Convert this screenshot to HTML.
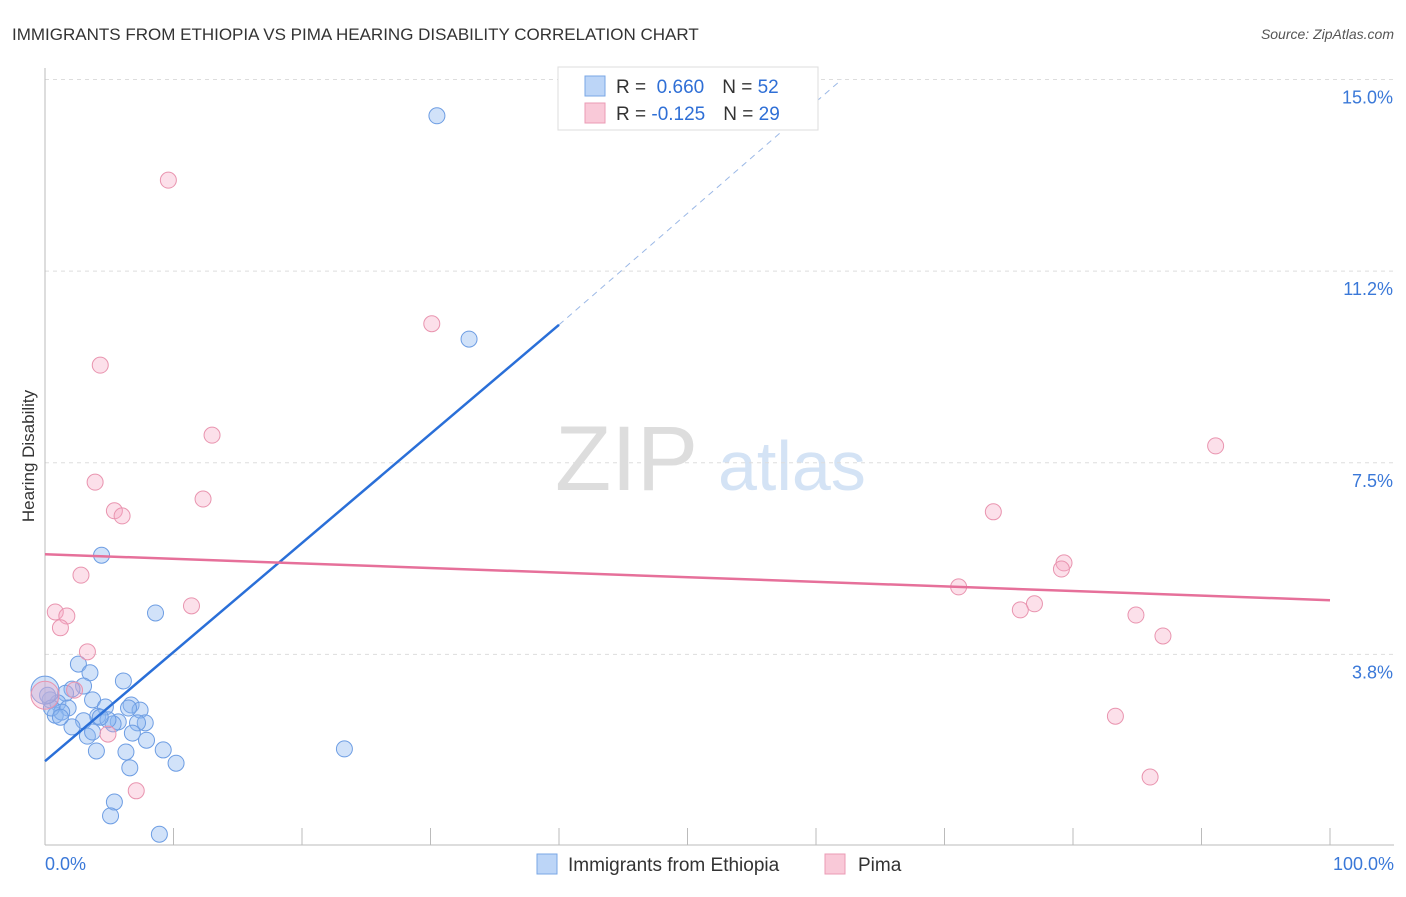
<!DOCTYPE html>
<html><head><meta charset="utf-8"><style>
body{margin:0;background:#fff;font-family:"Liberation Sans",sans-serif}
svg text{font-family:"Liberation Sans",sans-serif}
</style></head><body>
<svg id="c" width="1406" height="892">
<text x="12" y="40" font-size="17" fill="#333">IMMIGRANTS FROM ETHIOPIA VS PIMA HEARING DISABILITY CORRELATION CHART</text>
<text x="1394" y="39" font-size="14" fill="#555" text-anchor="end" font-style="italic">Source: ZipAtlas.com</text>
<text x="34" y="456" font-size="17" fill="#333" text-anchor="middle" transform="rotate(-90 34 456)">Hearing Disability</text>
<g><text x="555" y="490" font-size="92" fill="#ddd" font-family="Liberation Serif">ZIP</text><text x="718" y="490" font-size="70" fill="#d4e3f5">atlas</text></g>
<g id="grid"></g><g id="marks"></g>
<g>
<rect x="558" y="67" width="260" height="63" fill="#fff" stroke="#ddd"/>
<rect x="585" y="76" width="20" height="20" fill="#bcd5f7" stroke="#7aa7e6"/>
<rect x="585" y="103" width="20" height="20" fill="#f9c9d8" stroke="#eb9bb5"/>
<text x="616" y="93" font-size="19" fill="#333">R = <tspan fill="#2f6fd6">&#160;0.660</tspan><tspan dx="18">N = </tspan><tspan fill="#2f6fd6">52</tspan></text>
<text x="616" y="120" font-size="19" fill="#333">R = <tspan fill="#2f6fd6">-0.125</tspan><tspan dx="18">N = </tspan><tspan fill="#2f6fd6">29</tspan></text>
</g>
<g>
<rect x="537" y="854" width="20" height="20" fill="#bcd5f7" stroke="#7aa7e6"/>
<text x="568" y="871" font-size="19" fill="#333">Immigrants from Ethiopia</text>
<rect x="825" y="854" width="20" height="20" fill="#f9c9d8" stroke="#eb9bb5"/>
<text x="858" y="871" font-size="19" fill="#333">Pima</text>
</g>
</svg>
<script>
const yTicks=[3.75,7.5,11.25,15];
const yTickLabels=["3.8%","7.5%","11.2%","15.0%"];
const xTickLabels=["0.0%","100.0%"];
const blueX=[30.5,33.0,4.4,8.6,2.6,3.5,6.1,3.0,2.1,1.6,3.7,0.4,1.0,1.8,4.7,6.7,7.4,6.5,4.1,0.8,1.3,3.0,2.1,5.7,7.8,7.2,5.3,6.8,3.3,3.7,7.9,4.0,6.3,9.2,6.6,10.2,23.3,5.4,5.1,8.9,0.2,0.5,1.2,4.9,4.3,0];
const blueY=[14.29,9.92,5.69,4.56,3.56,3.39,3.23,3.13,3.07,2.99,2.86,2.86,2.80,2.70,2.72,2.76,2.66,2.70,2.54,2.56,2.62,2.45,2.33,2.43,2.41,2.41,2.39,2.21,2.15,2.23,2.07,1.86,1.84,1.88,1.53,1.62,1.90,0.86,0.59,0.23,2.95,2.70,2.52,2.47,2.52,3.05];
const pinkX=[9.6,30.1,4.3,13.0,3.9,12.3,5.4,6.0,2.8,0.8,1.7,1.2,3.3,11.4,4.9,7.1,2.3,0,91.1,73.8,79.3,79.1,71.1,77.0,75.9,84.9,87.0,83.3,86.0];
const pinkY=[13.03,10.22,9.41,8.04,7.12,6.79,6.56,6.46,5.30,4.58,4.50,4.27,3.80,4.70,2.19,1.08,3.05,2.95,7.83,6.54,5.54,5.42,5.07,4.74,4.62,4.52,4.11,2.54,1.35];
const blueTrend=[0,1.66,40,10.2,62,15.0];
const pinkTrend=[0,5.71,100,4.81];
const X=v=>45+v*12.85, Y=v=>846-v*51.1;
const NS="http://www.w3.org/2000/svg";
const g=document.getElementById('grid'), m=document.getElementById('marks');
function mk(p,tag,a){const e=document.createElementNS(NS,tag);for(const k in a)e.setAttribute(k,a[k]);p.appendChild(e);return e;}
yTicks.forEach((t,i)=>{
 const l=mk(g,'line',{x1:45,x2:1394,y1:Y(t),y2:Y(t),stroke:'#ddd','stroke-dasharray':'4,4'});
 
 
 const tx=mk(g,'text',{x:1393,y:Y(t)+24,'font-size':18,fill:'#3a78d8','text-anchor':'end'});tx.textContent=yTickLabels[i];
 
 
});
const ax=mk(g,'line',{x1:45,x2:1394,y1:845,y2:845,stroke:'#bbb'});


const ay=mk(g,'line',{x1:45,x2:45,y1:68,y2:845,stroke:'#bbb'});


for(let i=0;i<=10;i++){const t=mk(g,'line',{x1:X(i*10),x2:X(i*10),y1:828,y2:845,stroke:'#bbb'});
 
 }
[[0,"start"],[100,"end"]].forEach((p,i)=>{const t=mk(g,'text',{x:i?1394:45,y:870,'font-size':18,fill:'#3a78d8','text-anchor':p[1]});t.textContent=xTickLabels[i];
 
 });
function dots(xs,ys,fill,stroke,name){xs.forEach((x,i)=>{const c=mk(m,'circle',{cx:X(x),cy:Y(ys[i]),r:(x===0?14:8),fill:fill,stroke:stroke,'stroke-width':1});
 
 });}
dots(blueX,blueY,'rgba(140,182,240,0.4)','#6d9de3','point-ethiopia');
dots(pinkX,pinkY,'rgba(245,165,195,0.35)','#e994af','point-pima');
const b1=mk(m,'line',{x1:X(blueTrend[0]),y1:Y(blueTrend[1]),x2:X(blueTrend[2]),y2:Y(blueTrend[3]),stroke:'#2a6fd8','stroke-width':2.5});


const b2=mk(m,'line',{x1:X(blueTrend[2]),y1:Y(blueTrend[3]),x2:X(blueTrend[4]),y2:Y(blueTrend[5]),stroke:'#9bb8e6','stroke-width':1,'stroke-dasharray':'6,5'});


const p1=mk(m,'line',{x1:X(pinkTrend[0]),y1:Y(pinkTrend[1]),x2:X(pinkTrend[2]),y2:Y(pinkTrend[3]),stroke:'#e6709a','stroke-width':2.5});


</script>
</body></html>
